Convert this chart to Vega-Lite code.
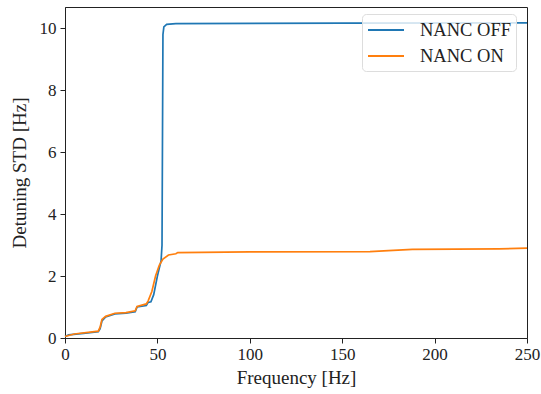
{
  "$schema": "https://vega.github.io/schema/vega-lite/v6.json",
  "width": 462,
  "height": 331,
  "autosize": {"type": "none"},
  "padding": {"left": 65, "top": 7, "right": 14, "bottom": 56},
  "background": "white",
  "config": {
    "view": {"stroke": "#222", "strokeWidth": 1},
    "font": "Liberation Serif",
    "axis": {
      "grid": false,
      "domainColor": "#222",
      "tickColor": "#222",
      "tickSize": 5,
      "labelFlush": false,
      "labelFont": "Liberation Serif",
      "labelFontSize": 17,
      "labelColor": "#222",
      "titleFont": "Liberation Serif",
      "titleFontSize": 19,
      "titleFontWeight": "normal",
      "titleColor": "#222"
    }
  },
  "data": {
    "values": [
      {"f": 0, "std": 0.05, "s": "NANC OFF"},
      {"f": 2, "std": 0.1, "s": "NANC OFF"},
      {"f": 10, "std": 0.15, "s": "NANC OFF"},
      {"f": 18, "std": 0.2, "s": "NANC OFF"},
      {"f": 19, "std": 0.3, "s": "NANC OFF"},
      {"f": 20, "std": 0.55, "s": "NANC OFF"},
      {"f": 22, "std": 0.68, "s": "NANC OFF"},
      {"f": 27, "std": 0.78, "s": "NANC OFF"},
      {"f": 33, "std": 0.8, "s": "NANC OFF"},
      {"f": 38, "std": 0.85, "s": "NANC OFF"},
      {"f": 39, "std": 1.0, "s": "NANC OFF"},
      {"f": 44, "std": 1.05, "s": "NANC OFF"},
      {"f": 45, "std": 1.15, "s": "NANC OFF"},
      {"f": 46.5, "std": 1.17, "s": "NANC OFF"},
      {"f": 48, "std": 1.4, "s": "NANC OFF"},
      {"f": 50, "std": 2.0, "s": "NANC OFF"},
      {"f": 52, "std": 2.5, "s": "NANC OFF"},
      {"f": 52.5, "std": 3.0, "s": "NANC OFF"},
      {"f": 53, "std": 9.8, "s": "NANC OFF"},
      {"f": 53.5, "std": 10.05, "s": "NANC OFF"},
      {"f": 55, "std": 10.13, "s": "NANC OFF"},
      {"f": 60, "std": 10.15, "s": "NANC OFF"},
      {"f": 150, "std": 10.17, "s": "NANC OFF"},
      {"f": 250, "std": 10.18, "s": "NANC OFF"},
      {"f": 0, "std": 0.05, "s": "NANC ON"},
      {"f": 5, "std": 0.13, "s": "NANC ON"},
      {"f": 18, "std": 0.22, "s": "NANC ON"},
      {"f": 19, "std": 0.35, "s": "NANC ON"},
      {"f": 20, "std": 0.6, "s": "NANC ON"},
      {"f": 22, "std": 0.7, "s": "NANC ON"},
      {"f": 27, "std": 0.8, "s": "NANC ON"},
      {"f": 33, "std": 0.82, "s": "NANC ON"},
      {"f": 38, "std": 0.88, "s": "NANC ON"},
      {"f": 39, "std": 1.02, "s": "NANC ON"},
      {"f": 44, "std": 1.1, "s": "NANC ON"},
      {"f": 45, "std": 1.2, "s": "NANC ON"},
      {"f": 47, "std": 1.5, "s": "NANC ON"},
      {"f": 49, "std": 2.0, "s": "NANC ON"},
      {"f": 51, "std": 2.35, "s": "NANC ON"},
      {"f": 53, "std": 2.55, "s": "NANC ON"},
      {"f": 56, "std": 2.68, "s": "NANC ON"},
      {"f": 60, "std": 2.72, "s": "NANC ON"},
      {"f": 61, "std": 2.76, "s": "NANC ON"},
      {"f": 100, "std": 2.78, "s": "NANC ON"},
      {"f": 165, "std": 2.79, "s": "NANC ON"},
      {"f": 175, "std": 2.82, "s": "NANC ON"},
      {"f": 188, "std": 2.86, "s": "NANC ON"},
      {"f": 235, "std": 2.88, "s": "NANC ON"},
      {"f": 250, "std": 2.9, "s": "NANC ON"}
    ]
  },
  "mark": {"type": "line", "strokeWidth": 1.7, "interpolate": "linear"},
  "encoding": {
    "x": {
      "field": "f", "type": "quantitative", "title": "Frequency [Hz]",
      "scale": {"domain": [0, 250], "nice": false, "zero": false},
      "axis": {"values": [0, 50, 100, 150, 200, 250], "labelPadding": 3, "titlePadding": 6}
    },
    "y": {
      "field": "std", "type": "quantitative", "title": "Detuning STD [Hz]",
      "scale": {"domain": [0, 10.69], "nice": false},
      "axis": {"values": [0, 2, 4, 6, 8, 10], "labelPadding": 4, "titlePadding": 10}
    },
    "color": {
      "field": "s", "type": "nominal",
      "scale": {"domain": ["NANC OFF", "NANC ON"], "range": ["#1f77b4", "#ff7f0e"]},
      "legend": {
        "title": null,
        "orient": "none",
        "legendX": 297,
        "legendY": 7,
        "symbolType": "M-1,0H2.6",
        "symbolSize": 400,
        "symbolStrokeWidth": 2,
        "symbolFillColor": "transparent",
        "labelFont": "Liberation Serif",
        "labelFontSize": 18.5,
        "labelColor": "#222",
        "labelOffset": 31,
        "rowPadding": 5,
        "padding": 5,
        "strokeColor": "#ddd",
        "fillColor": "rgba(255,255,255,0.8)",
        "cornerRadius": 4
      }
    },
    "order": {"field": "f", "type": "quantitative"}
  }
}
